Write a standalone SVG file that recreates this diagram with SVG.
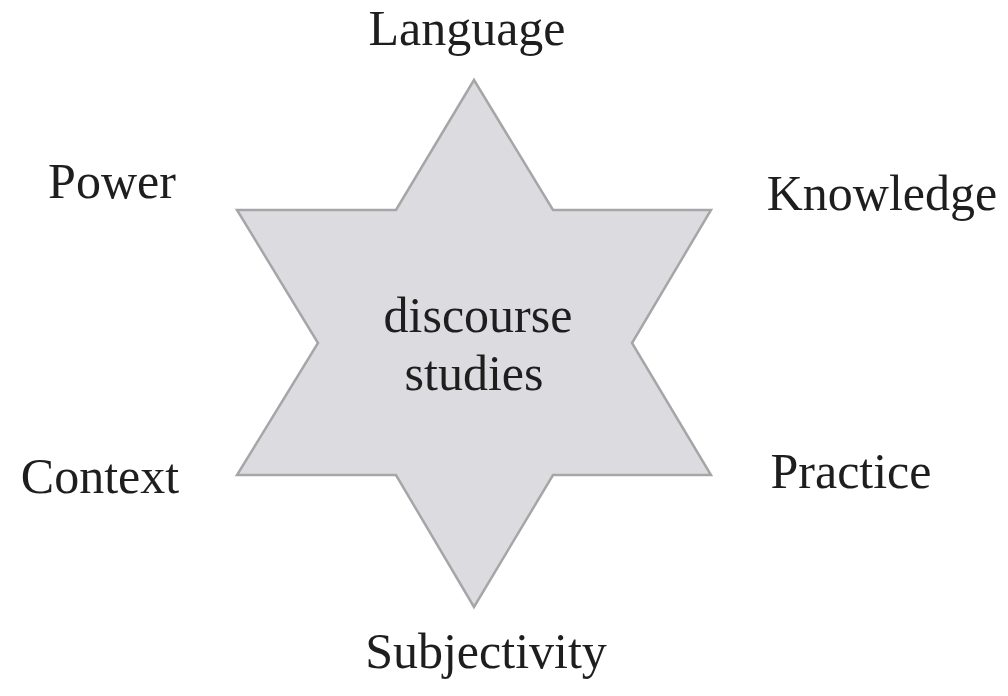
<svg xmlns="http://www.w3.org/2000/svg" width="1008" height="696" viewBox="0 0 1008 696">
  <style>
    .lbl { font-family: "Liberation Serif", "Times New Roman", serif; font-size: 50px; fill: #1e1e1e; }
    .star { fill: #dcdce0; stroke: #a6a6a8; stroke-width: 2.5; stroke-linejoin: miter; }
  </style>
  <rect width="1008" height="696" fill="#ffffff"/>
  <g id="star">
    <polygon class="star" points="474,80 553,210 711,210 632,343 711,475 553,475 474,607 396,475 237,475 318,343 237,210 396,210"/>
    <text class="lbl" x="478" y="332" text-anchor="middle">discourse</text>
    <text class="lbl" x="474" y="390" text-anchor="middle">studies</text>
  </g>
  <g id="language"><text class="lbl" x="467" y="45" text-anchor="middle">Language</text></g>
  <g id="power"><text class="lbl" x="112" y="198" text-anchor="middle">Power</text></g>
  <g id="knowledge"><text class="lbl" x="882" y="210" text-anchor="middle">Knowledge</text></g>
  <g id="context"><text class="lbl" x="100" y="493" text-anchor="middle">Context</text></g>
  <g id="practice"><text class="lbl" x="851" y="488" text-anchor="middle">Practice</text></g>
  <g id="subjectivity"><text class="lbl" x="486" y="668" text-anchor="middle">Subjectivity</text></g>
  <g id="connectors"></g>
</svg>
